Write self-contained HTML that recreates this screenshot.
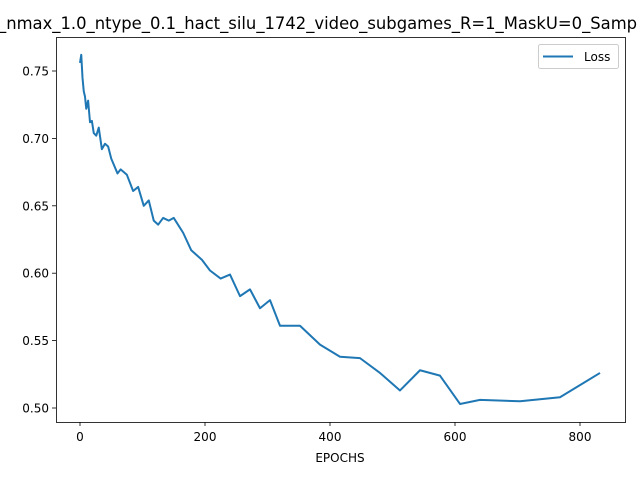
<!DOCTYPE html>
<html><head><meta charset="utf-8"><style>
body{margin:0;background:#fff;width:640px;height:480px;overflow:hidden;font-family:"Liberation Sans","DejaVu Sans",sans-serif}
</style></head><body>
<svg id="chart" width="640" height="480" xmlns="http://www.w3.org/2000/svg" font-family="DejaVu Sans, Liberation Sans, sans-serif">
<text x="-2" y="29" font-size="16.4" fill="#000">_nmax_1.0_ntype_0.1_hact_silu_1742_video_subgames_R=1_MaskU=0_Samp</text>
<g id="xt"></g>
<g id="yt"></g>
<path id="line" fill="none" stroke="#1f77b4" stroke-width="2" stroke-linejoin="round"/>
<rect x="56.5" y="37.5" width="569" height="385" fill="none" stroke="#000" stroke-width="0.8"/>
<text x="340" y="462" font-size="12" text-anchor="middle">EPOCHS</text>
<g>
<rect x="538.5" y="44.5" width="80" height="24" rx="2" fill="#fff" stroke="#ccc"/>
<line x1="543" y1="56.5" x2="573" y2="56.5" stroke="#1f77b4" stroke-width="2"/>
<text x="584" y="61" font-size="12">Loss</text>
</g>
</svg>
<script>
const epochs=[0,2,4,6,8,10,13,16,19,22,26,30,35,40,45,50,60,65,75,85,93,102,110,118,125,133,142,150,165,178,195,208,225,240,256,272,288,304,320,352,384,416,448,480,512,544,576,608,640,704,768,832];
const losses=[0.756,0.762,0.745,0.735,0.731,0.722,0.728,0.712,0.713,0.704,0.702,0.708,0.692,0.696,0.694,0.685,0.674,0.677,0.673,0.661,0.664,0.650,0.654,0.639,0.636,0.641,0.639,0.641,0.630,0.617,0.610,0.602,0.596,0.599,0.583,0.588,0.574,0.580,0.561,0.561,0.547,0.538,0.537,0.526,0.513,0.528,0.524,0.503,0.506,0.505,0.508,0.526];
const xTicks=[0,200,400,600,800];
const yTicks=[0.50,0.55,0.60,0.65,0.70,0.75];
const NS="http://www.w3.org/2000/svg";
function sx(e){return 80+e*0.625;}
function sy(v){return 408-(v-0.5)*1348;}
document.getElementById('line').setAttribute('d',epochs.map((e,i)=>(i?'L':'M')+sx(e).toFixed(2)+' '+sy(losses[i]).toFixed(2)).join(''));
const xt=document.getElementById('xt'),yt=document.getElementById('yt');
xTicks.forEach(t=>{
 const l=document.createElementNS(NS,'line');
 l.setAttribute('x1',sx(t));l.setAttribute('x2',sx(t));l.setAttribute('y1',422);l.setAttribute('y2',426);l.setAttribute('stroke','#000');l.setAttribute('stroke-width','0.8');
 
 
 xt.appendChild(l);
 const tx=document.createElementNS(NS,'text');
 tx.setAttribute('x',sx(t));tx.setAttribute('y',441);tx.setAttribute('font-size','12');tx.setAttribute('text-anchor','middle');
 tx.textContent=t;
 
 
 xt.appendChild(tx);
});
yTicks.forEach(t=>{
 const l=document.createElementNS(NS,'line');
 l.setAttribute('x1',52);l.setAttribute('x2',56);l.setAttribute('y1',sy(t));l.setAttribute('y2',sy(t));l.setAttribute('stroke','#000');l.setAttribute('stroke-width','0.8');
 
 
 yt.appendChild(l);
 const tx=document.createElementNS(NS,'text');
 tx.setAttribute('x',49);tx.setAttribute('y',sy(t)+4.5);tx.setAttribute('font-size','12');tx.setAttribute('text-anchor','end');
 tx.textContent=t.toFixed(2);
 
 
 yt.appendChild(tx);
});
</script>
</body></html>
